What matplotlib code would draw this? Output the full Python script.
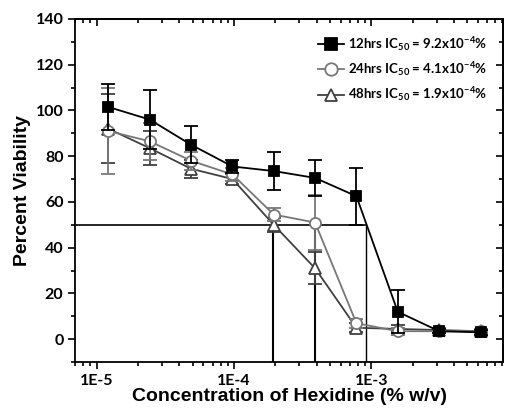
import matplotlib.pyplot as plt
import numpy as np
from matplotlib.lines import Line2D
from matplotlib.ticker import MultipleLocator, LogLocator, NullFormatter

plt.rcParams["mathtext.fontset"] = "custom"
plt.rcParams["mathtext.rm"] = "Lato:bold"
plt.rcParams["mathtext.it"] = "Lato:bold"
plt.rcParams["mathtext.bf"] = "Lato:bold"

# concentrations (% w/v), two-fold dilution series
conc = [1.22e-5, 2.44e-5, 4.88e-5, 9.77e-5, 1.95e-4, 3.9e-4, 7.8e-4, 1.56e-3, 3.125e-3, 6.25e-3]

via_12 = [101.5, 96, 85, 75.5, 73.5, 70.5, 62.5, 12, 3.5, 3]
err_12 = [10, 13, 8, 3, 8.5, 8, 12.5, 9.5, 1, 1]

via_24 = [91, 86.5, 78, 72, 54.5, 51, 7, 3.5, 3.5, 3.5]
err_24 = [19, 8, 4, 3, 3, 12, 2, 1.5, 1, 1]

via_48 = [92, 83.5, 74.5, 70, 50, 31, 5, 4.5, 4, 3.5]
err_48 = [15, 7.5, 4, 2, 3, 7, 2, 1.5, 1, 1]

labels = [r"12hrs IC$_{50}$ = 9.2x10$^{-4}$%",
          r"24hrs IC$_{50}$ = 4.1x10$^{-4}$%",
          r"48hrs IC$_{50}$ = 1.9x10$^{-4}$%"]
ic50 = [1.93e-4, 3.9e-4, 9.2e-4]

styles = [("black", "s", "black"), ("#777777", "o", "white"), ("#404040", "^", "white")]

fig = plt.figure(figsize=(5.05, 4.11), dpi=100)
ax = fig.add_axes([0.149, 0.119, 0.847, 0.835])

# IC50 guide lines
ax.plot([7e-6, ic50[2]], [50, 50], color="black", lw=1.2, zorder=1)
ax.vlines(ic50[0], -10, 50, color="black", lw=1.5, zorder=1)
ax.vlines(ic50[1], -10, 50, color="black", lw=1.5, zorder=1)
ax.vlines(ic50[2], -10, 50, color="black", lw=1.0, zorder=1)

handles = []
for (vals, errs, lab, (col, mk, fc), z) in zip([via_12, via_24, via_48],
                                               [err_12, err_24, err_48],
                                               labels, styles, [4, 3, 2]):
    ms = 7 if mk == "s" else 8
    ax.errorbar(conc, vals, yerr=errs, color=col, marker=mk, ms=ms, mfc=fc,
                mec=col, mew=1.3, lw=1.3, capsize=5, capthick=1.3,
                elinewidth=1.3, zorder=z)
    handles.append(Line2D([], [], color=col, marker=mk, ms=ms + 1, mfc=fc,
                          mec=col, mew=1.3, lw=1.3, label=lab))

ax.set_xscale("log")
ax.set_xlim(7e-6, 9.1e-3)
ax.set_ylim(-10, 140)
ax.set_xticks([1e-5, 1e-4, 1e-3])
ax.set_xticklabels(["1E-5", "1E-4", "1E-3"])
ax.xaxis.set_minor_locator(LogLocator(base=10, subs=np.arange(2, 10)))
ax.xaxis.set_minor_formatter(NullFormatter())
ax.yaxis.set_major_locator(MultipleLocator(20))
ax.yaxis.set_minor_locator(MultipleLocator(10))

for s in ax.spines.values():
    s.set_linewidth(1.3)
ax.tick_params(which="both", direction="out", width=1.2)
ax.tick_params(which="major", length=5)
ax.tick_params(which="minor", length=3)

# inward ticks on top and right
top = ax.secondary_xaxis("top")
top.set_xticks([1e-5, 1e-4, 1e-3])
top.xaxis.set_minor_locator(LogLocator(base=10, subs=np.arange(2, 10)))
top.tick_params(which="both", direction="in", width=1.2, labeltop=False)
top.tick_params(which="major", length=5)
top.tick_params(which="minor", length=3)
top.spines["top"].set_linewidth(1.3)
right = ax.secondary_yaxis("right")
right.yaxis.set_major_locator(MultipleLocator(20))
right.yaxis.set_minor_locator(MultipleLocator(10))
right.tick_params(which="both", direction="in", width=1.2, labelright=False)
right.tick_params(which="major", length=5)
right.tick_params(which="minor", length=3)
right.spines["right"].set_linewidth(1.3)

for lab in ax.get_xticklabels() + ax.get_yticklabels():
    lab.set_fontfamily("Lato")
    lab.set_fontweight("bold")
    lab.set_fontsize(11.5)

ax.set_xlabel("Concentration of Hexidine (% w/v)", fontsize=14, fontweight="bold",
              fontfamily="Liberation Sans", labelpad=0)
ax.set_ylabel("Percent Viability", fontsize=14, fontweight="bold",
              fontfamily="Liberation Sans", labelpad=3)

leg = ax.legend(handles=handles, loc="upper right", frameon=False,
                handlelength=2.0, handletextpad=0.3,
                prop={"family": "Lato", "weight": "bold", "size": 9.5},
                labelspacing=0.55, borderaxespad=0.8)

fig.savefig("out.png", dpi=100)
